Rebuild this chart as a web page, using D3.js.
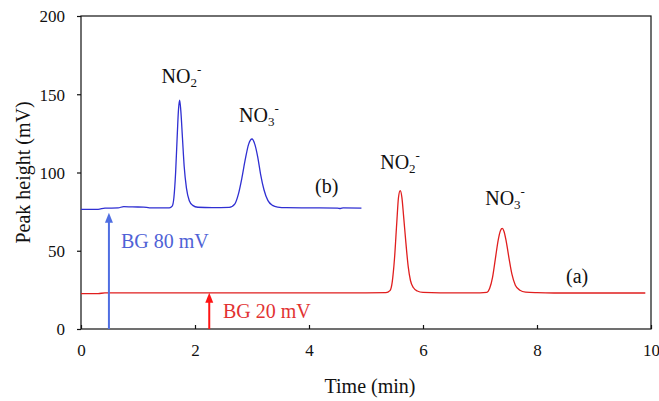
<!DOCTYPE html>
<html>
<head>
<meta charset="utf-8">
<script src="https://cdn.jsdelivr.net/npm/d3@7"></script>
<style>
  html, body { margin: 0; padding: 0; background: #fff; }
  svg { display: block; }
  svg text { font-family: "Liberation Serif", "Times New Roman", serif; }
</style>
</head>
<body>
<svg id="chart" width="659" height="401"></svg>
<script>
// Chromatogram (a): [time (min), peak height (mV)]
const traceA = [
  [0, 22.6], [0.3, 22.6], [0.42, 23.1], [1, 23.1], [2, 23.1], [3, 23.1], [4, 23.1],
  [5, 23.1], [5.35, 23.2], [5.42, 24.5], [5.46, 30], [5.5, 45], [5.54, 68],
  [5.57, 84], [5.6, 88.4], [5.63, 84], [5.66, 72], [5.7, 55], [5.74, 40],
  [5.78, 31], [5.83, 26.5], [5.9, 24.3], [6.0, 23.4], [6.3, 23.1], [7.0, 23.1],
  [7.12, 23.4], [7.17, 26], [7.22, 33], [7.27, 45], [7.32, 57], [7.36, 63],
  [7.39, 64.3], [7.42, 62.5], [7.46, 56], [7.51, 45], [7.56, 35], [7.62, 28],
  [7.7, 24.8], [7.8, 23.6], [8.0, 23.2], [8.3, 23.0], [9, 23.0], [9.9, 23.0]
];

// Chromatogram (b): [time (min), peak height (mV)]
const traceB = [
  [0, 76.4], [0.3, 76.5], [0.42, 77.2], [0.65, 77.4], [0.75, 78.2], [0.9, 78.0],
  [1.1, 77.9], [1.2, 77.4], [1.55, 77.4], [1.6, 78.5], [1.63, 84], [1.66, 100],
  [1.69, 125], [1.71, 140], [1.73, 146.3], [1.75, 140], [1.78, 122], [1.81, 104],
  [1.85, 90], [1.9, 82], [1.96, 79], [2.05, 77.8], [2.3, 77.5], [2.6, 77.7],
  [2.7, 80], [2.76, 86], [2.82, 96], [2.88, 108], [2.94, 118], [3.0, 121.4],
  [3.05, 118], [3.1, 110], [3.15, 99], [3.21, 89], [3.28, 82], [3.36, 79],
  [3.45, 77.9], [3.6, 77.5], [4.0, 77.4], [4.5, 77.3], [4.55, 77.0], [4.6, 77.4],
  [4.92, 77.3]
];

// Peak apexes: [time, height]
const peaksA = [[5.6, 88.4], [7.39, 64.3]];
const peaksB = [[1.73, 146.3], [3.0, 121.4]];
const ionNames = ["NO2-", "NO3-"];

// Background markers: [time, level reached by the arrow]
const bgA = [2.25, 23.2];
const bgB = [0.49, 74.3];
const bgLabels = ["BG 20 mV", "BG 80 mV"];
const traceNames = ["(a)", "(b)"];

const xTicks = [0, 2, 4, 6, 8, 10];
const yTicks = [0, 50, 100, 150, 200];

const svg = d3.select("#chart");
const plotL = 81, plotR = 651, plotT = 16, plotB = 329;

const x = d3.scaleLinear().domain([0, 10]).range([plotL, plotR]);
const y = d3.scaleLinear().domain([0, 200]).range([plotB, plotT]);

const ink = "#111";
const serif = '"Liberation Serif", "Times New Roman", serif';

// frame
svg.append("rect")
  .attr("x", plotL).attr("y", plotT)
  .attr("width", plotR - plotL).attr("height", plotB - plotT)
  .attr("fill", "none").attr("stroke", ink).attr("stroke-width", 1.2);

// x axis: ticks point into the plot
const xAxis = svg.append("g")
  .attr("transform", `translate(0,${plotB})`)
  .call(d3.axisBottom(x).tickValues(xTicks).tickSizeInner(-4).tickSizeOuter(0))
  .attr("font-family", null).attr("font-size", null);
xAxis.select(".domain").remove();
xAxis.selectAll("line").attr("stroke", ink).attr("stroke-width", 1.2);
xAxis.selectAll("text")
  .style("font-family", serif).style("font-size", "17px").attr("fill", ink)
  .attr("dy", null).attr("y", 27);

// y axis: ticks point outward
const yAxis = svg.append("g")
  .attr("transform", `translate(${plotL},0)`)
  .call(d3.axisLeft(y).tickValues(yTicks).tickSizeInner(4).tickSizeOuter(0))
  .attr("font-family", null).attr("font-size", null);
yAxis.select(".domain").remove();
yAxis.selectAll("line").attr("stroke", ink).attr("stroke-width", 1.2);
yAxis.selectAll("text")
  .style("font-family", serif).style("font-size", "17px").attr("fill", ink)
  .attr("dy", "0.34em").attr("x", -16);

// axis titles
svg.append("text")
  .attr("x", (plotL + plotR) / 2 + 4).attr("y", 393)
  .attr("text-anchor", "middle").attr("font-size", 20).attr("fill", ink)
  .text("Time (min)");
svg.append("text")
  .attr("transform", `translate(30,${(plotT + plotB) / 2}) rotate(-90)`)
  .attr("text-anchor", "middle").attr("font-size", 20).attr("fill", ink)
  .text("Peak height (mV)");

// traces
const line = d3.line().x(d => x(d[0])).y(d => y(d[1])).curve(d3.curveMonotoneX);
svg.append("path").datum(traceA)
  .attr("d", line).attr("fill", "none").attr("stroke", "#e01e1e").attr("stroke-width", 1.3);
svg.append("path").datum(traceB)
  .attr("d", line).attr("fill", "none").attr("stroke", "#2f2fd2").attr("stroke-width", 1.3);

// ion labels with subscript / superscript
function ionLabel(name, px, py) {
  const base = name.slice(0, 2), sub = name[2], sup = name[3];
  const t = svg.append("text")
    .attr("x", px).attr("y", py).attr("font-size", 20).attr("fill", ink);
  t.append("tspan").text(base);
  t.append("tspan").attr("font-size", 13).attr("dy", 4).text(sub);
  t.append("tspan").attr("font-size", 13).attr("dy", -13).text(sup);
  return t;
}
// label offsets relative to each apex (pixels)
ionLabel(ionNames[0], x(peaksB[0][0]) - 18, y(peaksB[0][1]) - 17);
ionLabel(ionNames[1], x(peaksB[1][0]) - 13, y(peaksB[1][1]) - 17);
ionLabel(ionNames[0], x(peaksA[0][0]) - 20, y(peaksA[0][1]) - 22);
ionLabel(ionNames[1], x(peaksA[1][0]) - 17, y(peaksA[1][1]) - 23);

// trace names
svg.append("text").attr("x", 566).attr("y", 283)
  .attr("font-size", 20).attr("fill", ink).text(traceNames[0]);
svg.append("text").attr("x", 315).attr("y", 193)
  .attr("font-size", 20).attr("fill", ink).text(traceNames[1]);

// background arrows
function arrow(bg, color, width) {
  const ax = x(bg[0]), ay = y(bg[1]);
  svg.append("line")
    .attr("x1", ax).attr("x2", ax).attr("y1", y(0)).attr("y2", ay + 8)
    .attr("stroke", color).attr("stroke-width", width);
  svg.append("path")
    .attr("d", `M${ax},${ay} L${ax - 4},${ay + 10} L${ax + 4},${ay + 10} Z`)
    .attr("fill", color);
}
arrow(bgA, "#ff1414", 2);
arrow(bgB, "#4f6ee2", 2);

svg.append("text").attr("x", 223).attr("y", 318)
  .attr("font-size", 20).attr("fill", "#e23232").text(bgLabels[0]);
svg.append("text").attr("x", 121).attr("y", 248)
  .attr("font-size", 20).attr("fill", "#4f62d6").text(bgLabels[1]);
</script>
</body>
</html>
